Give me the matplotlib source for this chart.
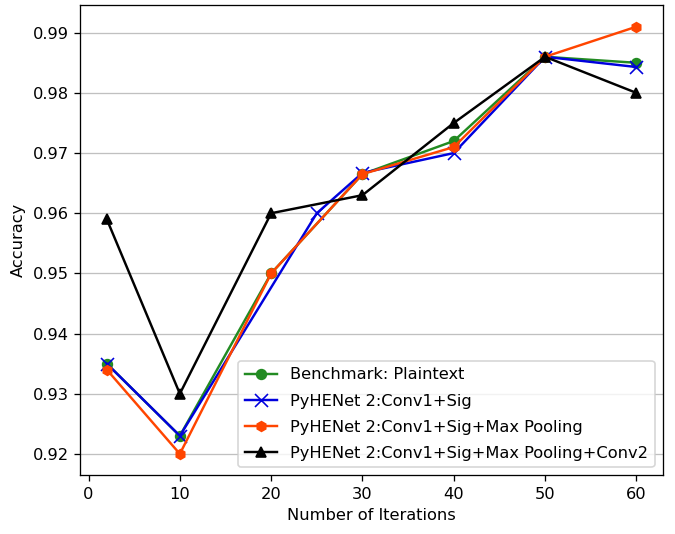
import matplotlib
matplotlib.use("Agg")
import matplotlib.pyplot as plt

# iterations and accuracy
iters = [2, 10, 20, 30, 40, 50, 60]
iters_sig = [2, 10, 25, 30, 40, 50, 60]

acc_plain = [0.935, 0.923, 0.950, 0.9665, 0.972, 0.986, 0.985]
acc_sig = [0.935, 0.923, 0.960, 0.9667, 0.970, 0.986, 0.9843]
acc_pool = [0.934, 0.920, 0.950, 0.9665, 0.971, 0.986, 0.991]
acc_conv2 = [0.959, 0.930, 0.960, 0.963, 0.975, 0.986, 0.980]

labels = ["Benchmark: Plaintext",
          "PyHENet 2:Conv1+Sig",
          "PyHENet 2:Conv1+Sig+Max Pooling",
          "PyHENet 2:Conv1+Sig+Max Pooling+Conv2"]

dpi = 117
fig, ax = plt.subplots(figsize=(675 / dpi, 534 / dpi), dpi=dpi)
ax.plot(iters, acc_plain, color="#228B22", marker="o", label=labels[0])
ax.plot(iters_sig, acc_sig, color="#0000DD", marker="x", markersize=8, label=labels[1])
ax.plot(iters, acc_pool, color="#FF4500", marker="h", label=labels[2])
ax.plot(iters, acc_conv2, color="black", marker="^", label=labels[3])

ax.yaxis.grid(True, color="#c0c0c0")
ax.set_axisbelow(True)
ax.set_xlabel("Number of Iterations")
ax.set_ylabel("Accuracy")
ax.legend(loc="lower right", labelspacing=0.68)
fig.subplots_adjust(left=0.119, right=0.982, top=0.99, bottom=0.11)
fig.savefig("out.png", dpi=dpi)
